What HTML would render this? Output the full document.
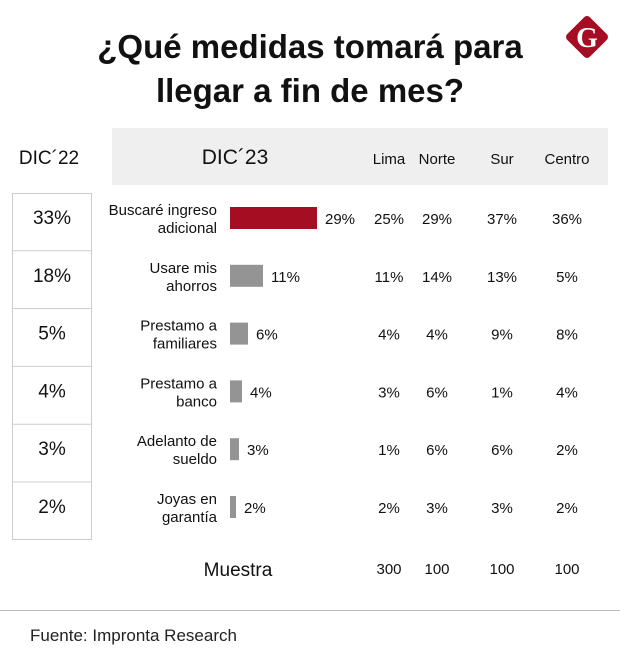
<!DOCTYPE html>
<html><head><meta charset="utf-8"><style>
body{margin:0;width:620px;height:669px;background:#fff;font-family:"Liberation Sans",sans-serif;color:#111;position:relative;overflow:hidden}
.a{position:absolute}
</style></head><body>
<div class="a" style="left:40px;top:25px;width:540px;text-align:center;font-weight:bold;font-size:33px;line-height:44px">¿Qué medidas tomará para<br>llegar a fin de mes?</div>
<svg class="a" style="left:560px;top:10px" width="54" height="54" viewBox="0 0 54 54"><rect x="11" y="11" width="32" height="32" rx="4" fill="#a50d22" transform="rotate(45 27 27)"/><text x="27" y="37" text-anchor="middle" font-family="Liberation Serif" font-weight="bold" font-size="28" fill="#fff">G</text></svg>
<div class="a" style="left:112px;top:128px;width:496px;height:57px;background:#efefef"></div>
<div class="a" style="left:12px;top:148px;width:74px;text-align:center;font-size:19px">DIC´22</div>
<div class="a" style="left:185px;top:146px;width:100px;text-align:center;font-size:21px">DIC´23</div>
<svg id="chart" class="a" style="left:0;top:0" width="620" height="669"></svg>
<div class="a" style="left:0;top:610px;width:620px;height:1px;background:#bbb"></div>
<div class="a" style="left:30px;top:626px;font-size:17px;color:#222">Fuente: Impronta Research</div>
<script>
const categories=[["Buscaré ingreso","adicional"],["Usare mis","ahorros"],["Prestamo a","familiares"],["Prestamo a","banco"],["Adelanto de","sueldo"],["Joyas en","garantía"]];
const dic22=[33,18,5,4,3,2];
const dic23=[29,11,6,4,3,2];
const lima=[25,11,4,3,1,2];
const norte=[29,14,4,6,6,3];
const sur=[37,13,9,1,6,3];
const centro=[36,5,8,4,2,2];
const regions=["Lima","Norte","Sur","Centro"];
const muestra=[300,100,100,100];
const ns="http://www.w3.org/2000/svg";
const svg=document.getElementById('chart');
const colX=[389,437,502,567];
const rowY=i=>193+i*57.8;
const xs=v=>v*3;
function t(x,y,s,o){const e=document.createElementNS(ns,'text');e.setAttribute('x',x);e.setAttribute('y',y);e.setAttribute('font-size',o.fs||15);e.setAttribute('text-anchor',o.a||'middle');e.setAttribute('fill','#111');e.setAttribute('font-family','Liberation Sans');e.textContent=s;svg.appendChild(e);return e;}
regions.forEach((r,j)=>{const e=t(colX[j],164,r,{fs:15});

});
const box=document.createElementNS(ns,'rect');box.setAttribute('x',12.5);box.setAttribute('y',193.5);box.setAttribute('width',79);box.setAttribute('height',346);box.setAttribute('fill','none');box.setAttribute('stroke','#ccc');svg.appendChild(box);
const regVals=[lima,norte,sur,centro];
categories.forEach((c,i)=>{
 const y0=rowY(i),cy=y0+25;
 if(i>0){const l=document.createElementNS(ns,'line');l.setAttribute('x1',12);l.setAttribute('x2',92);l.setAttribute('y1',y0);l.setAttribute('y2',y0);l.setAttribute('stroke','#ccc');svg.appendChild(l);}
 let e=t(52,cy+6,dic22[i]+'%',{fs:19});
 
 
 t(217,cy-3,c[0],{fs:15,a:'end'});t(217,cy+15,c[1],{fs:15,a:'end'});
 const b=document.createElementNS(ns,'rect');
 b.setAttribute('x',230);b.setAttribute('y',cy-11);b.setAttribute('width',xs(dic23[i]));b.setAttribute('height',22);b.setAttribute('fill',i==0?'#a50d22':'#949494');
 
 
 svg.appendChild(b);
 t(230+xs(dic23[i])+8,cy+6,dic23[i]+'%',{fs:15,a:'start'});
 regVals.forEach((arr,j)=>t(colX[j],cy+6,arr[i]+'%',{fs:15}));
});
t(238,576,'Muestra',{fs:19});
muestra.forEach((m,j)=>t(colX[j],574,m,{fs:15}));
</script>
</body></html>
